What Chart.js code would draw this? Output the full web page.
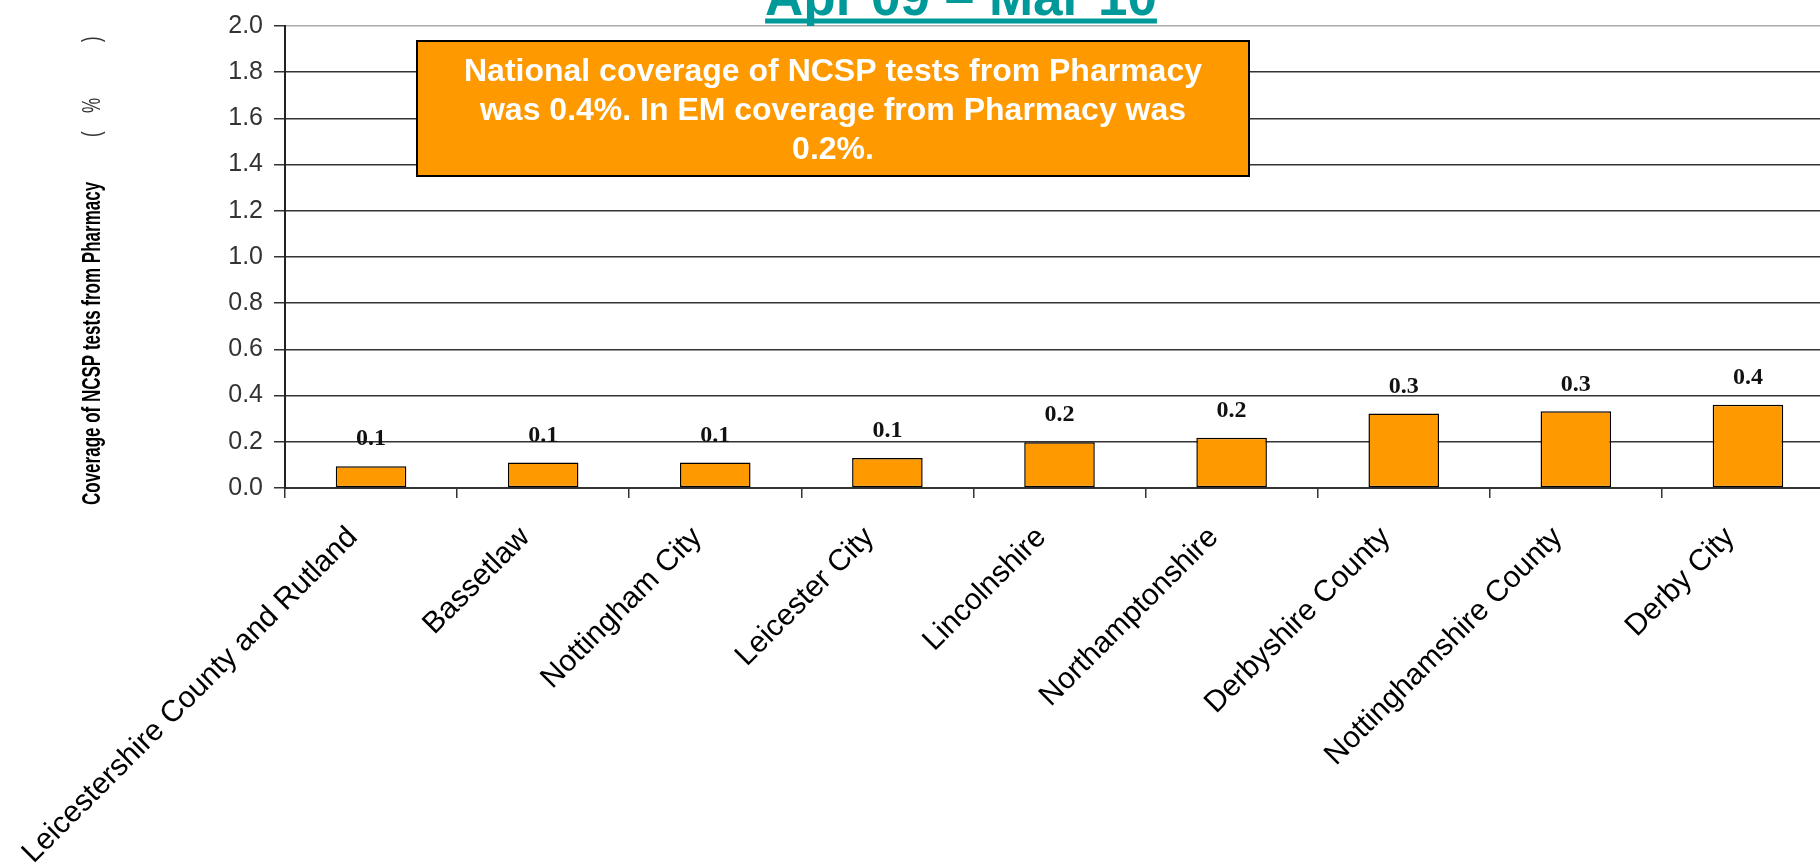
<!DOCTYPE html>
<html lang="en">
<head>
<meta charset="UTF-8">
<title>Coverage of NCSP tests from Pharmacy</title>
<script src="https://cdn.jsdelivr.net/npm/chart.js"></script>
<style>
    html, body { margin: 0; padding: 0; background: #fff; overflow: hidden; }
    .wrap { position: relative; width: 1834px; height: 866px; }
</style>
</head>
<body>
<div class="wrap"><canvas id="pharmacyChart"></canvas></div>
<script>
// data
const regions = ['Leicestershire County and Rutland', 'Bassetlaw', 'Nottingham City', 'Leicester City',
    'Lincolnshire', 'Northamptonshire', 'Derbyshire County', 'Nottinghamshire County', 'Derby City'];
const coverage = [0.094, 0.11, 0.11, 0.13, 0.198, 0.217, 0.323, 0.332, 0.36];
const yMin = 0;
const yMax = 2.0;
const yStep = 0.2;
const chartTitle = 'Apr 09 \u2013 Mar 10';
const yTitle = 'Coverage of NCSP tests from Pharmacy';
const noteLines = ['National coverage of NCSP tests from Pharmacy',
    'was 0.4%. In EM coverage from Pharmacy was', '0.2%.'];

const orange = '#FF9900';
const gridDark = '#333333';

// value labels above each bar
const valueLabels = {
    id: 'valueLabels',
    afterDatasetsDraw(chart) {
        const ctx = chart.ctx;
        const meta = chart.getDatasetMeta(0);
        ctx.save();
        ctx.font = 'bold 24px "Liberation Serif", "Times New Roman", serif';
        ctx.fillStyle = '#111';
        ctx.textAlign = 'center';
        ctx.textBaseline = 'middle';
        meta.data.forEach((bar, i) => {
            ctx.fillText(coverage[i].toFixed(1), bar.x, bar.y - 27);
        });
        ctx.restore();
    }
};

// title, note box and rotated axis title
const extras = {
    id: 'extras',
    afterDraw(chart) {
        const ctx = chart.ctx;
        ctx.save();

        // title (cut off at the top like the slide)
        ctx.font = 'bold 53px "Liberation Sans", Arial, sans-serif';
        ctx.fillStyle = '#009999';
        ctx.textAlign = 'center';
        ctx.textBaseline = 'alphabetic';
        ctx.fillText(chartTitle, 961, 15);
        const tw = ctx.measureText(chartTitle).width;
        ctx.fillRect(961 - tw / 2, 18.5, tw, 5);

        // note box
        ctx.fillStyle = orange;
        ctx.fillRect(417, 41, 832, 135);
        ctx.strokeStyle = '#000';
        ctx.lineWidth = 2;
        ctx.strokeRect(417, 41, 832, 135);
        ctx.fillStyle = '#fff';
        ctx.font = 'bold 32px "Liberation Sans", Arial, sans-serif';
        ctx.textBaseline = 'middle';
        noteLines.forEach((line, i) => {
            ctx.fillText(line, 833, 72 + i * 39.3);
        });

        // y axis title, rotated and stretched
        ctx.translate(100, 505);
        ctx.rotate(-Math.PI / 2);
        ctx.scale(1, 1.5);
        ctx.textAlign = 'left';
        ctx.textBaseline = 'alphabetic';
        ctx.fillStyle = '#000';
        ctx.font = 'bold 17px "Liberation Sans", Arial, sans-serif';
        ctx.fillText(yTitle, 0, 0);
        ctx.font = '17px "Liberation Sans", Arial, sans-serif';
        ctx.fillStyle = '#333';
        ctx.fillText('(', 368, 0);
        ctx.fillText('%', 392, 0);
        ctx.fillText(')', 463, 0);
        ctx.restore();
    }
};

const ctx = document.getElementById('pharmacyChart').getContext('2d');
const chart = new Chart(ctx, {
    type: 'bar',
    data: {
        labels: regions,
        datasets: [{
            data: coverage,
            backgroundColor: orange,
            borderColor: '#000',
            borderWidth: 1.5,
            borderSkipped: false,
            categoryPercentage: 1,
            barPercentage: 0.41
        }]
    },
    options: {
        responsive: true,
        maintainAspectRatio: false,
        animation: false,
        layout: { padding: { top: 20, left: 0, right: 0, bottom: 0 } },
        plugins: {
            legend: { display: false },
            tooltip: { enabled: false }
        },
        scales: {
            x: {
                offset: true,
                grid: {
                    drawOnChartArea: false,
                    drawTicks: true,
                    tickLength: 10,
                    color: gridDark,
                    lineWidth: 1.5
                },
                border: { display: true, color: gridDark, width: 2 },
                ticks: {
                    autoSkip: false,
                    minRotation: 45,
                    maxRotation: 45,
                    padding: 22,
                    labelOffset: -18,
                    color: '#000',
                    font: { family: '"Liberation Sans", Arial, sans-serif', size: 30 }
                },
                afterFit(scale) { scale.height = 378; }
            },
            y: {
                min: yMin,
                max: yMax,
                grid: {
                    color: c => (c.tick && c.tick.value === yMax ? '#aaaaaa' : gridDark),
                    tickColor: gridDark,
                    lineWidth: 1.5,
                    tickLength: 11
                },
                border: { display: true, color: '#222', width: 2 },
                ticks: {
                    stepSize: yStep,
                    padding: 11,
                    color: '#333',
                    font: { family: '"Liberation Sans", Arial, sans-serif', size: 25 },
                    callback: v => Number(v).toFixed(1)
                },
                afterFit(scale) { scale.width = 285; }
            }
        }
    },
    plugins: [valueLabels, extras]
});
</script>
</body>
</html>
